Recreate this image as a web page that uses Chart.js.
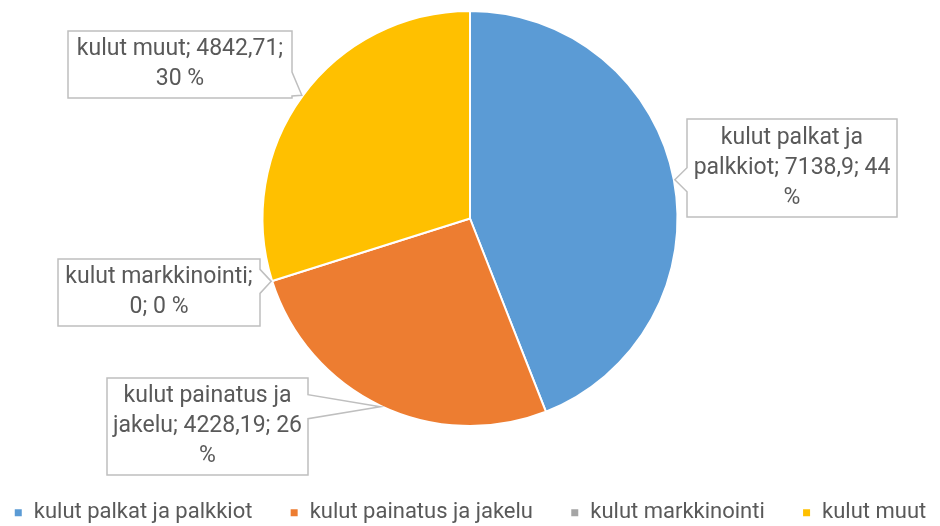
<!DOCTYPE html>
<html>
<head>
<meta charset="utf-8">
<script src="https://cdn.jsdelivr.net/npm/chart.js@4/dist/chart.umd.min.js"></script>
<style>
  html, body { margin: 0; padding: 0; background: #ffffff; }
  #wrap { width: 940px; height: 526px; }
</style>
</head>
<body>
<div id="wrap"><canvas id="myChart1" width="940" height="526"></canvas></div>
<script>
// data
var categories = ['kulut palkat ja palkkiot', 'kulut painatus ja jakelu', 'kulut markkinointi', 'kulut muut'];
var values = [7138.9, 4228.19, 0, 4842.71];
var sliceColors = ['#5B9BD5', '#ED7D31', '#A5A5A5', '#FFC000'];

// where the callout boxes sit (layout only)
var calloutBoxes = [
  {x: 687, y: 119, w: 210, h: 98},
  {x: 107, y: 378, w: 201, h: 97},
  {x: 58,  y: 259, w: 202, h: 67},
  {x: 68,  y: 31,  w: 224, h: 67}
];

var FONT = "Roboto, 'Noto Sans', sans-serif";
var textGrey = '#595959';
var legendFontSize = 22;
var legendPad = 10;

var total = values.reduce(function(a, b){ return a + b; }, 0);

function labelText(i){
  var v = String(values[i]).replace('.', ',');
  var pct = Math.round(values[i] / total * 100);
  return categories[i] + '; ' + v + '; ' + pct + ' %';
}

function wrapWords(ctx, text, maxW){
  var words = text.split(' ');
  var lines = [];
  var cur = '';
  words.forEach(function(w){
    var test = cur ? cur + ' ' + w : w;
    if (ctx.measureText(test).width > maxW && cur) {
      lines.push(cur);
      cur = w;
    } else cur = test;
  });
  if (cur) lines.push(cur);
  return lines;
}

// callouts with a little pointer to the slice edge, like the Excel ones
var calloutPlugin = {
  id: 'callouts',
  afterLayout: function(chart){
    // legend row sits right at the bottom edge, pie keeps its size
    var textY = chart.legend.top + legendPad + legendFontSize * 1.2 / 2;
    var dy = 515 - textY;
    chart.legend.top += dy;
    chart.legend.bottom += dy;
  },
  afterDatasetsDraw: function(chart){
    var ctx = chart.ctx;
    var arcs = chart.getDatasetMeta(0).data;
    ctx.save();
    ctx.font = '23px ' + FONT;
    arcs.forEach(function(arc, i){
      var b = calloutBoxes[i];
      var mid = (arc.startAngle + arc.endAngle) / 2;
      var tipX = arc.x + (arc.outerRadius + 1) * Math.cos(mid);
      var tipY = arc.y + (arc.outerRadius + 1) * Math.sin(mid);

      // pointer base sits on the box side facing the tip
      var rightSide = tipX > b.x + b.w;
      var sideX = rightSide ? b.x + b.w : b.x;
      var cy = Math.min(Math.max(tipY, b.y + 14), b.y + b.h - 14);

      ctx.beginPath();
      ctx.moveTo(b.x, b.y);
      ctx.lineTo(b.x + b.w, b.y);
      if (rightSide) {
        ctx.lineTo(sideX, cy - 12);
        ctx.lineTo(tipX, tipY);
        ctx.lineTo(sideX, cy + 12);
      }
      ctx.lineTo(b.x + b.w, b.y + b.h);
      ctx.lineTo(b.x, b.y + b.h);
      if (!rightSide) {
        ctx.lineTo(sideX, cy + 12);
        ctx.lineTo(tipX, tipY);
        ctx.lineTo(sideX, cy - 12);
      }
      ctx.closePath();
      ctx.fillStyle = '#ffffff';
      ctx.fill();
      ctx.lineWidth = 1.5;
      ctx.strokeStyle = '#BFBFBF';
      ctx.stroke();

      var lines = wrapWords(ctx, labelText(i), b.w - 10);
      var lh = 30;
      var startY = b.y + b.h / 2 - (lines.length - 1) * lh / 2;
      ctx.fillStyle = textGrey;
      ctx.textAlign = 'center';
      ctx.textBaseline = 'middle';
      lines.forEach(function(l, k){
        ctx.fillText(l, b.x + b.w / 2, startY + k * lh);
      });
    });
    ctx.restore();
  }
};

const ctx = document.getElementById('myChart1');
const myChart = new Chart(ctx, {
  type: 'pie',
  data: {
    labels: categories,
    datasets: [{
      data: values,
      backgroundColor: sliceColors,
      borderColor: '#ffffff',
      borderWidth: 2
    }]
  },
  options: {
    responsive: false,
    animation: false,
    layout: { padding: { top: 10, bottom: 57, left: 0, right: 0 } },
    plugins: {
      tooltip: { enabled: false },
      legend: {
        position: 'bottom',
        labels: {
          boxWidth: 9,
          boxHeight: 9,
          padding: legendPad,
          color: textGrey,
          font: { family: FONT, size: legendFontSize },
          // wider gaps between the entries, as in the original legend row
          generateLabels: function(chart){
            var items = Chart.overrides.pie.plugins.legend.labels.generateLabels(chart);
            items.forEach(function(it, i){
              if (i < items.length - 1) it.text = it.text + '\u00a0\u00a0\u00a0\u00a0\u00a0';
            });
            return items;
          }
        }
      }
    }
  },
  plugins: [calloutPlugin]
});
</script>
</body>
</html>
